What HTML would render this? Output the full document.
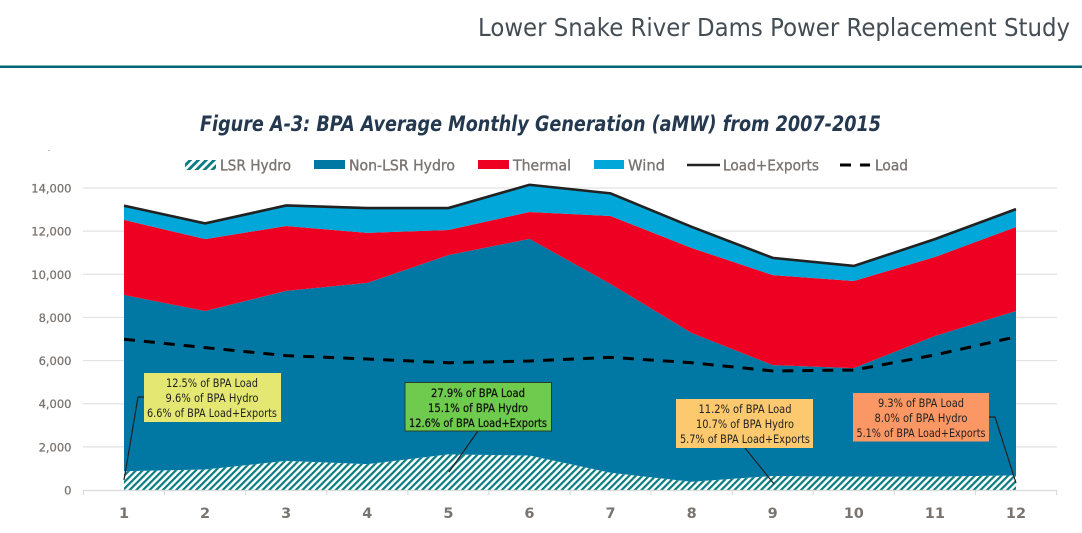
<!DOCTYPE html>
<html lang="en">
<head>
<meta charset="utf-8">
<title>BPA Average Monthly Generation</title>
<style>
html,body{margin:0;padding:0;background:#fff;width:1082px;height:533px;overflow:hidden}
svg{display:block;font-family:"DejaVu Sans","Liberation Sans",sans-serif}
</style>
</head>
<body>
<svg id="chart" xmlns="http://www.w3.org/2000/svg" width="1082" height="533" viewBox="0 0 1082 533">
  <defs>
    <pattern id="hatch" patternUnits="userSpaceOnUse" width="4.7" height="4.7" patternTransform="rotate(45)">
      <rect width="4.7" height="4.7" fill="#fff"/>
      <rect width="2.2" height="4.7" fill="#0b7d80"/>
    </pattern>
    <pattern id="hatch-legend" patternUnits="userSpaceOnUse" width="5.6" height="5.6" patternTransform="rotate(45)">
      <rect width="5.6" height="5.6" fill="#fff"/>
      <rect width="2.8" height="5.6" fill="#0b7d80"/>
    </pattern>
  </defs>
  <text x="478" y="36" font-size="25" fill="#454d54" textLength="592" lengthAdjust="spacingAndGlyphs">Lower Snake River Dams Power Replacement Study</text>
  <rect x="0" y="65.5" width="1082" height="2.5" fill="#00677a"/>
  <text x="200" y="131" font-size="21" font-weight="bold" font-style="italic" fill="#24384f" textLength="681" lengthAdjust="spacingAndGlyphs">Figure A-3: BPA Average Monthly Generation (aMW) from 2007-2015</text>
  <rect x="48" y="150" width="2" height="1" fill="#bbb"/>

  <g id="grid"></g>
  <g id="marks"></g>
  <g id="axes"></g>

  <g font-size="15" fill="#7a7470" stroke="#7a7470" stroke-width="0.35">
    <g>
      <rect x="185" y="160" width="31" height="10" fill="url(#hatch-legend)" stroke="none"/>
      <text x="220" y="170.500" textLength="71" lengthAdjust="spacingAndGlyphs">LSR Hydro</text>
    </g>
    <g>
      <rect x="314" y="160" width="31" height="9" fill="#0078a3" stroke="none"/>
      <text x="349" y="170.500" textLength="106" lengthAdjust="spacingAndGlyphs">Non-LSR Hydro</text>
    </g>
    <g>
      <rect x="478" y="160" width="31" height="9" fill="#ee0022" stroke="none"/>
      <text x="513" y="170.500" textLength="58" lengthAdjust="spacingAndGlyphs">Thermal</text>
    </g>
    <g>
      <rect x="594" y="160" width="30" height="9" fill="#00a7d8" stroke="none"/>
      <text x="628" y="170.500" textLength="37" lengthAdjust="spacingAndGlyphs">Wind</text>
    </g>
    <g>
      <line x1="687" y1="165" x2="720" y2="165" stroke="#222" stroke-width="2.5"/>
      <text x="723" y="170.500" textLength="96" lengthAdjust="spacingAndGlyphs">Load+Exports</text>
    </g>
    <g>
      <line x1="840" y1="165" x2="870" y2="165" stroke="#000" stroke-width="3" stroke-dasharray="11 9"/>
      <text x="875" y="170.500" textLength="33" lengthAdjust="spacingAndGlyphs">Load</text>
    </g>
  </g>

  <g font-size="11.5" fill="#222" text-anchor="middle">
    <polyline points="124,480 138,397 144,397" fill="none" stroke="#222" stroke-width="1.2"/>
    <rect x="144" y="373" width="137" height="49" fill="#e4e873"/>
    <text x="212" y="387" textLength="92" lengthAdjust="spacingAndGlyphs">12.5% of BPA Load</text>
    <text x="212" y="402" textLength="93" lengthAdjust="spacingAndGlyphs">9.6% of BPA Hydro</text>
    <text x="212" y="417" textLength="130" lengthAdjust="spacingAndGlyphs">6.6% of BPA Load+Exports</text>
  </g>
  <g font-size="11.5" fill="#111" stroke="#111" stroke-width="0.25" text-anchor="middle">
    <line x1="478" y1="431" x2="449" y2="472" stroke="#222" stroke-width="1.2"/>
    <rect x="405" y="382.500" width="146.500" height="48.500" fill="#6ecb4d" stroke="#27402c" stroke-width="1"/>
    <text x="478" y="397" textLength="94" lengthAdjust="spacingAndGlyphs">27.9% of BPA Load</text>
    <text x="478" y="412" textLength="100" lengthAdjust="spacingAndGlyphs">15.1% of BPA Hydro</text>
    <text x="478" y="427" textLength="138" lengthAdjust="spacingAndGlyphs">12.6% of BPA Load+Exports</text>
  </g>
  <g font-size="11.5" fill="#222" text-anchor="middle">
    <line x1="745" y1="448" x2="774" y2="484" stroke="#222" stroke-width="1.2"/>
    <rect x="676" y="399" width="137" height="49" fill="#fcc96e"/>
    <text x="745" y="413" textLength="93" lengthAdjust="spacingAndGlyphs">11.2% of BPA Load</text>
    <text x="745" y="428" textLength="98" lengthAdjust="spacingAndGlyphs">10.7% of BPA Hydro</text>
    <text x="745" y="443" textLength="130" lengthAdjust="spacingAndGlyphs">5.7% of BPA Load+Exports</text>
  </g>
  <g font-size="11.5" fill="#222" text-anchor="middle">
    <polyline points="989,417 995,417 1016,483" fill="none" stroke="#222" stroke-width="1.2"/>
    <rect x="853" y="393" width="136" height="48.500" fill="#fb9764"/>
    <text x="921" y="407" textLength="86" lengthAdjust="spacingAndGlyphs">9.3% of BPA Load</text>
    <text x="921" y="422" textLength="93" lengthAdjust="spacingAndGlyphs">8.0% of BPA Hydro</text>
    <text x="921" y="437" textLength="129" lengthAdjust="spacingAndGlyphs">5.1% of BPA Load+Exports</text>
  </g>
</svg>
<script>
const months = ["1","2","3","4","5","6","7","8","9","10","11","12"];
const yTicks = [0,2000,4000,6000,8000,10000,12000,14000];
const yTickLabels = ["0","2,000","4,000","6,000","8,000","10,000","12,000","14,000"];
const lsrHydro = [870,950,1350,1200,1650,1600,800,380,650,620,620,680];
const nonLsrHydro = [8170,7350,7880,8400,9240,10040,8750,6900,5140,5030,6520,7620];
const thermal = [3480,3330,3010,2320,1160,1250,3150,3940,4170,4040,3660,3890];
const wind = [660,730,950,1150,1020,1260,1050,980,800,695,830,830];
const loadExports = [13180,12360,13190,13070,13070,14150,13750,12200,10760,10385,11630,13020];
const load = [6990,6600,6230,6070,5900,5980,6150,5900,5520,5560,6260,7100];

const NS = "http://www.w3.org/2000/svg";
const X0 = 124, XSTEP = 81.09, Y0 = 490, YMAX = 14000, YSPAN = 302;
const xScale = i => X0 + i * XSTEP;
const yScale = v => Y0 - v / YMAX * YSPAN;
const grid = document.getElementById("grid");
const marks = document.getElementById("marks");
const axes = document.getElementById("axes");

function svgEl(tag, parent, attrs) {
  const el = document.createElementNS(NS, tag);
  Object.keys(attrs).forEach(k => el.setAttribute(k, attrs[k]));
  parent.appendChild(el);
  return el;
}

yTicks.forEach((t, i) => {
  if (t !== 0) {
    const line = svgEl("line", grid, {x1: 83, x2: 1057, y1: yScale(t), y2: yScale(t), stroke: "#e2e2e2", "stroke-width": 1.2});
    
    
  }
  const lab = svgEl("text", axes, {x: 71.5, y: yScale(t) + 4.5, "text-anchor": "end", "font-size": 11.5, fill: "#7a7470", stroke: "#7a7470", "stroke-width": 0.25});
  lab.textContent = yTickLabels[i];
  
  
});

const stackTop = months.map(() => 0);
function addArea(values, fill, name) {
  const lower = stackTop.slice();
  values.forEach((v, i) => { stackTop[i] += v; });
  let d = "";
  stackTop.forEach((v, i) => { d += (i ? "L" : "M") + xScale(i).toFixed(2) + " " + yScale(v).toFixed(2); });
  for (let i = lower.length - 1; i >= 0; i--) {
    d += "L" + xScale(i).toFixed(2) + " " + yScale(lower[i]).toFixed(2);
  }
  const area = svgEl("path", marks, {d: d + "Z", fill: fill});
  
  
}
addArea(lsrHydro, "url(#hatch)", "area-lsr-hydro");
addArea(nonLsrHydro, "#0078a3", "area-non-lsr-hydro");
addArea(thermal, "#ee0022", "area-thermal");
addArea(wind, "#00a7d8", "area-wind");

function addLine(values, attrs, name) {
  const pts = values.map((v, i) => xScale(i).toFixed(2) + "," + yScale(v).toFixed(2)).join(" ");
  const props = Object.assign({points: pts, fill: "none"}, attrs);
  const line = svgEl("polyline", marks, props);
  
  
}
addLine(loadExports, {stroke: "#222", "stroke-width": 2.6}, "line-load-exports");
addLine(load, {stroke: "#000", "stroke-width": 3, "stroke-dasharray": "11 9"}, "line-load");

const axisLine = svgEl("line", axes, {x1: 83, x2: 1057, y1: Y0 + 0.5, y2: Y0 + 0.5, stroke: "#dcdcdc", "stroke-width": 1.2});



for (let i = 0; i <= months.length; i++) {
  const tx = xScale(i - 0.5);
  const tick = svgEl("line", axes, {x1: tx, x2: tx, y1: Y0, y2: Y0 + 5, stroke: "#dcdcdc", "stroke-width": 1.2});
  
  
}
months.forEach((m, i) => {
  const lab = svgEl("text", axes, {x: xScale(i), y: 518, "text-anchor": "middle", "font-size": 14.5, "font-weight": "bold", fill: "#7a7470"});
  lab.textContent = m;
  
  
});
</script>
</body>
</html>
